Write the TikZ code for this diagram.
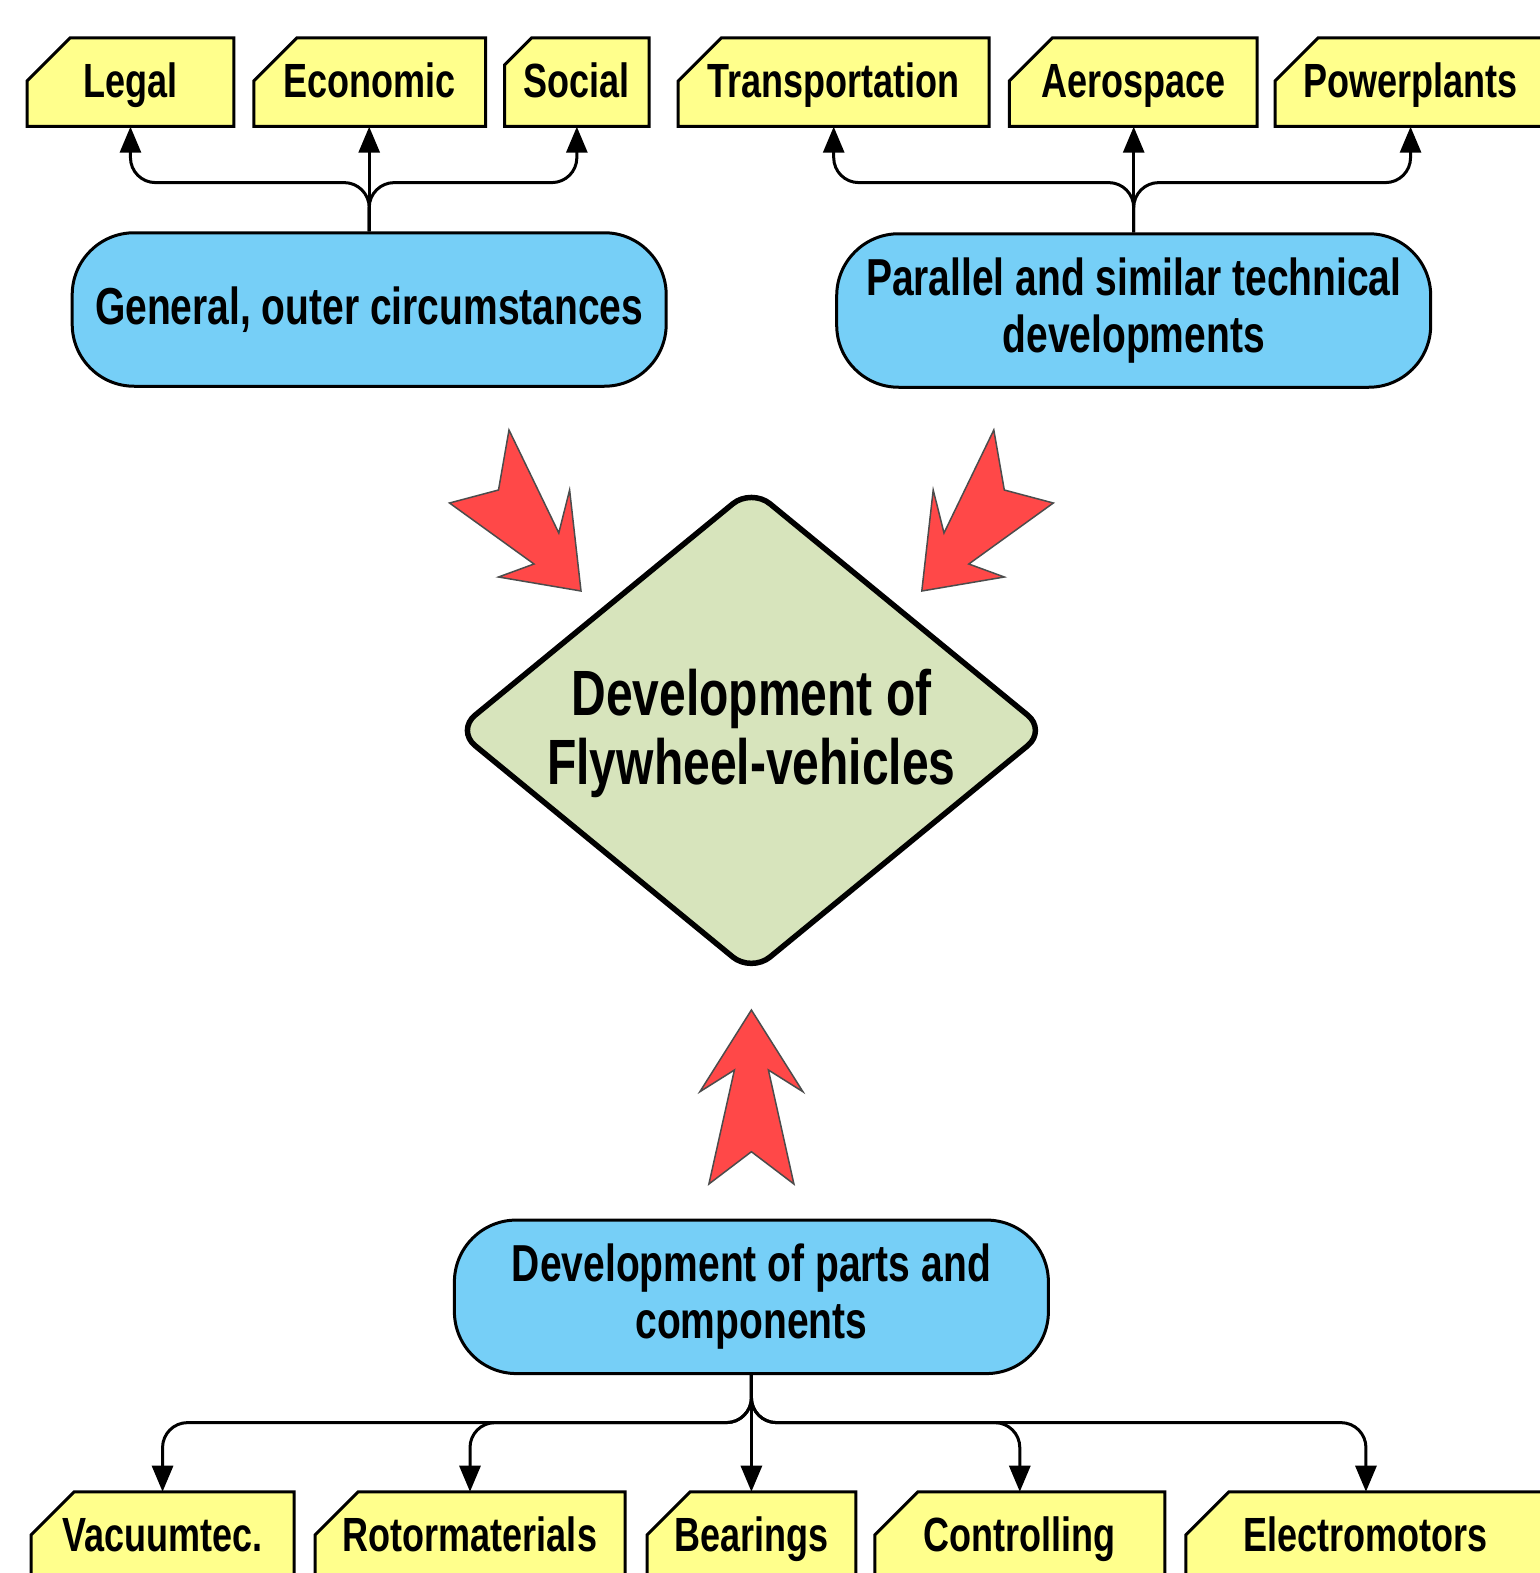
\documentclass[tikz,border=0pt]{standalone}
\usepackage{fontspec}
\newfontfamily\labfont{Liberation Sans}[FakeStretch=0.75]
\usetikzlibrary{arrows.meta,shapes.geometric}
\definecolor{tagyellow}{RGB}{255,255,140}
\definecolor{nodeblue}{RGB}{118,207,247}
\definecolor{diagreen}{RGB}{215,228,188}
\definecolor{arrred}{RGB}{255,72,72}
% name, x-left, x-right, y-top, y-bottom, chamfer, text
\newcommand\tagbox[7]{%
  \path[tagshape] (#2,#5) -- (#2,#4+#6) -- (#2+#6,#4) -- (#3,#4) -- (#3,#5) -- cycle;
  \pgfmathsetmacro\tagw{#3-#2}%
  \pgfmathsetmacro\tagh{#5-#4}%
  \node[tagtext, minimum width=\tagw pt, minimum height=\tagh pt] (#1) at ({(#2+#3)/2},{(#4+#5)/2}) {#7};}
\begin{document}
\begin{tikzpicture}[x=1pt,y=-1pt,
  tagshape/.style={fill=tagyellow, draw=black, line width=3pt, line join=miter},
  tagtext/.style={font=\labfont\bfseries\fontsize{48}{52}\selectfont, text height=35pt, text depth=5pt, inner sep=0pt},
  bluenode/.style={draw=black, line width=3pt, fill=nodeblue, rounded corners=62pt, minimum width=594pt, minimum height=153.5pt, align=center, inner sep=0pt, font=\labfont\bfseries\fontsize{52}{57}\selectfont},
  devnode/.style={diamond, draw=black, line width=5.5pt, fill=diagreen, rounded corners=24pt, minimum width=592pt, minimum height=486pt, inner sep=0pt},
  devtext/.style={font=\labfont\bfseries\fontsize{64}{69}\selectfont, align=center, inner sep=0pt},
  conn/.style={draw=black, line width=3pt, rounded corners=25pt, -{Triangle[length=26pt,width=21pt]}},
  bigarrow/.style={fill=arrred, draw=black!70, line width=1.5pt, line join=miter},
]
\fill[white] (0,0) rectangle (1539,1573);
\useasboundingbox (0,0) rectangle (1539,1573);

% top tags
\tagbox{legal}{27.1}{233.8}{38}{126.5}{43}{Legal}
\tagbox{economic}{253.8}{485.6}{38}{126.5}{43}{Economic}
\tagbox{social}{504.6}{649.1}{38}{126.5}{27}{Social}
\tagbox{transport}{678.2}{989.2}{38}{126.5}{43}{Transportation}
\tagbox{aero}{1009.3}{1257.1}{38}{126.5}{43}{Aerospace}
\tagbox{power}{1275.1}{1546}{38}{126.5}{43}{Powerplants}

% bottom tags
\tagbox{vacuum}{31.1}{294}{1491.9}{1580.4}{43}{Vacuumtec.}
\tagbox{rotor}{315}{625}{1491.9}{1580.4}{43}{Rotormaterials}
\tagbox{bearings}{647.1}{855.8}{1491.9}{1580.4}{43}{Bearings}
\tagbox{control}{874.8}{1164.8}{1491.9}{1580.4}{43}{Controlling}
\tagbox{electro}{1185.9}{1546}{1491.9}{1580.4}{43}{Electromotors}

% blue nodes
\node[bluenode] (outer) at (369.2,309.5) {General, outer circumstances};
\node[bluenode] (parallel) at (1133.7,310.5) {Parallel and similar technical\\developments};
\node[bluenode] (parts) at (751.4,1296.8) {Development of parts and\\components};

% central diamond
\node[devnode] (dev) at (751.4,730.4) {};
\node[devtext] (devlabel) at ([yshift=-3pt]dev.center) {Development of\\Flywheel-vehicles};

% connectors top-left
\coordinate (jt1) at (369.2,182.6);
\draw[conn] (outer.north) -- (outer.north |- jt1) -| (legal.south);
\draw[conn] (outer.north) -- (outer.north |- economic.south);
\draw[conn] (outer.north) -- (outer.north |- jt1) -| (social.south);

% connectors top-right
\coordinate (jt2) at (1133.7,182.6);
\draw[conn] (parallel.north) -- (parallel.north |- jt2) -| (transport.south);
\draw[conn] (parallel.north) -- (parallel.north |- aero.south);
\draw[conn] (parallel.north) -- (parallel.north |- jt2) -| (power.south);

% connectors bottom
\coordinate (jb) at (751.4,1422.6);
\draw[conn] (parts.south) -- (parts.south |- jb) -| (vacuum.north);
\draw[conn] (parts.south) -- (parts.south |- jb) -| (rotor.north);
\draw[conn] (parts.south) -- (parts.south |- bearings.north);
\draw[conn] (parts.south) -- (parts.south |- jb) -| (control.north);
\draw[conn] (parts.south) -- (parts.south |- jb) -| (electro.north);

% big red arrows
\path[bigarrow] (581,591) -- (498.5,577) -- (534,564) -- (449.5,503) -- (498.5,490)
  -- (509,430) -- (558.8,533) -- (569.6,490) -- cycle;
\path[bigarrow] (921.8,591) -- (1004.3,577) -- (968.8,564) -- (1053.3,503) -- (1004.3,490)
  -- (993.8,430) -- (944,533) -- (933.2,490) -- cycle;
\path[bigarrow] (751.4,1010) -- (802.9,1091.7) -- (768.4,1070) -- (793.9,1184) -- (751.4,1151.7)
  -- (708.9,1184) -- (734.4,1070) -- (699.9,1091.7) -- cycle;
\end{tikzpicture}
\end{document}
